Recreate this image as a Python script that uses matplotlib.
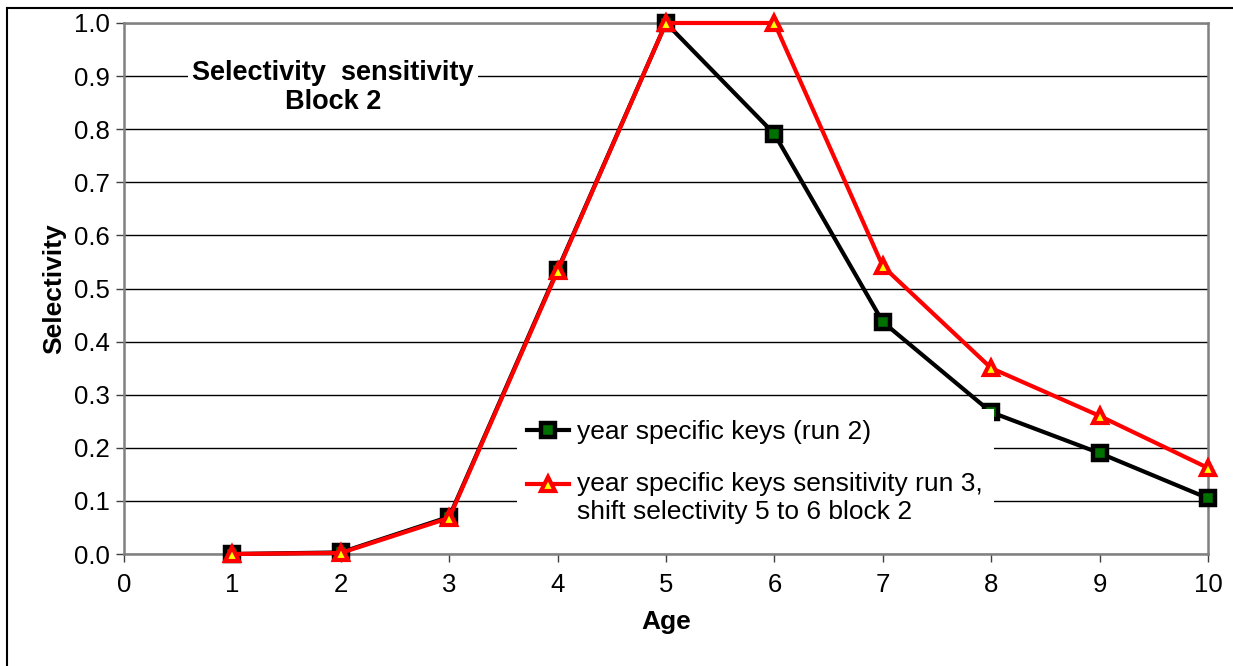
import matplotlib
matplotlib.use("Agg")
import matplotlib.pyplot as plt
from matplotlib.lines import Line2D
from matplotlib.legend_handler import HandlerLine2D

ages = [1, 2, 3, 4, 5, 6, 7, 8, 9, 10]
run2 = [0.0, 0.003, 0.07, 0.535, 1.0, 0.791, 0.437, 0.267, 0.19, 0.105]
run3 = [0.0, 0.002, 0.068, 0.533, 1.0, 1.0, 0.542, 0.35, 0.26, 0.162]
label_run2 = "year specific keys (run 2)"
label_run3 = "year specific keys sensitivity run 3,\nshift selectivity 5 to 6 block 2"
title_text = "Selectivity  sensitivity\nBlock 2"

plt.rcParams['font.family'] = ['Liberation Sans', 'DejaVu Sans']


class ShiftedHandler(HandlerLine2D):
    def __init__(self, dy, **kw):
        super().__init__(**kw)
        self.dy = dy

    def create_artists(self, legend, orig_handle, xdescent, ydescent, width,
                       height, fontsize, trans):
        return super().create_artists(legend, orig_handle, xdescent,
                                      ydescent - 2 * self.dy, width, height,
                                      fontsize, trans)


fig = plt.figure(figsize=(12.33, 6.66), dpi=100)
ax = fig.add_axes([124/1233, 1-554/666, (1208-124)/1233, (554-23)/666])

ax.set_xlim(0, 10)
ax.set_ylim(0, 1.0)
ax.set_xticks(range(0, 11))
ax.set_yticks([i/10 for i in range(11)])
ax.set_yticklabels([f"{i/10:.1f}" for i in range(11)])
ax.yaxis.grid(True, color='black', linewidth=1.0)
ax.set_axisbelow(True)
for s in ax.spines.values():
    s.set_color('#808080')
    s.set_linewidth(1.8)
ax.tick_params(axis='both', direction='out', length=6, width=1, color='#404040',
               labelsize=18.5, pad=4)
ax.tick_params(axis='x', pad=8)

ax.plot(ages, run2, color='black', lw=3, marker='s', markersize=10,
        markerfacecolor='#007000', markeredgecolor='black', markeredgewidth=3.2,
        label=label_run2, zorder=3, clip_on=False)
l3, = ax.plot(ages, run3, color='red', lw=3, marker='^', markersize=10.5,
              markerfacecolor='yellow', markeredgecolor='red', markeredgewidth=3,
              label=label_run3, zorder=4, clip_on=False)

ax.set_xlabel("Age", fontsize=19, fontweight='bold', labelpad=9)
ax.set_ylabel("Selectivity", fontsize=19, fontweight='bold', labelpad=6)

ax.text(0.193, 0.879, title_text, transform=ax.transAxes, ha='center', va='center',
        fontsize=19.5, fontweight='bold', linespacing=1.15,
        bbox=dict(facecolor='white', edgecolor='none', pad=3), zorder=5)

leg = ax.legend(loc='upper left', bbox_to_anchor=(0.35, 0.297), fontsize=19,
                frameon=True, fancybox=False, framealpha=1, edgecolor='none',
                facecolor='white', handlelength=1.6, handletextpad=0.3,
                labelspacing=1.05, borderpad=0.4,
                handler_map={l3: ShiftedHandler(10)})
leg.set_zorder(6)

fig.add_artist(Line2D([8/1233, 1.0], [1-8/666, 1-8/666], color='black', lw=1.5,
                      transform=fig.transFigure))
fig.add_artist(Line2D([7/1233, 7/1233], [1-8/666, 1-665/666], color='black', lw=1.5,
                      transform=fig.transFigure))

fig.savefig("out.png", dpi=100)
